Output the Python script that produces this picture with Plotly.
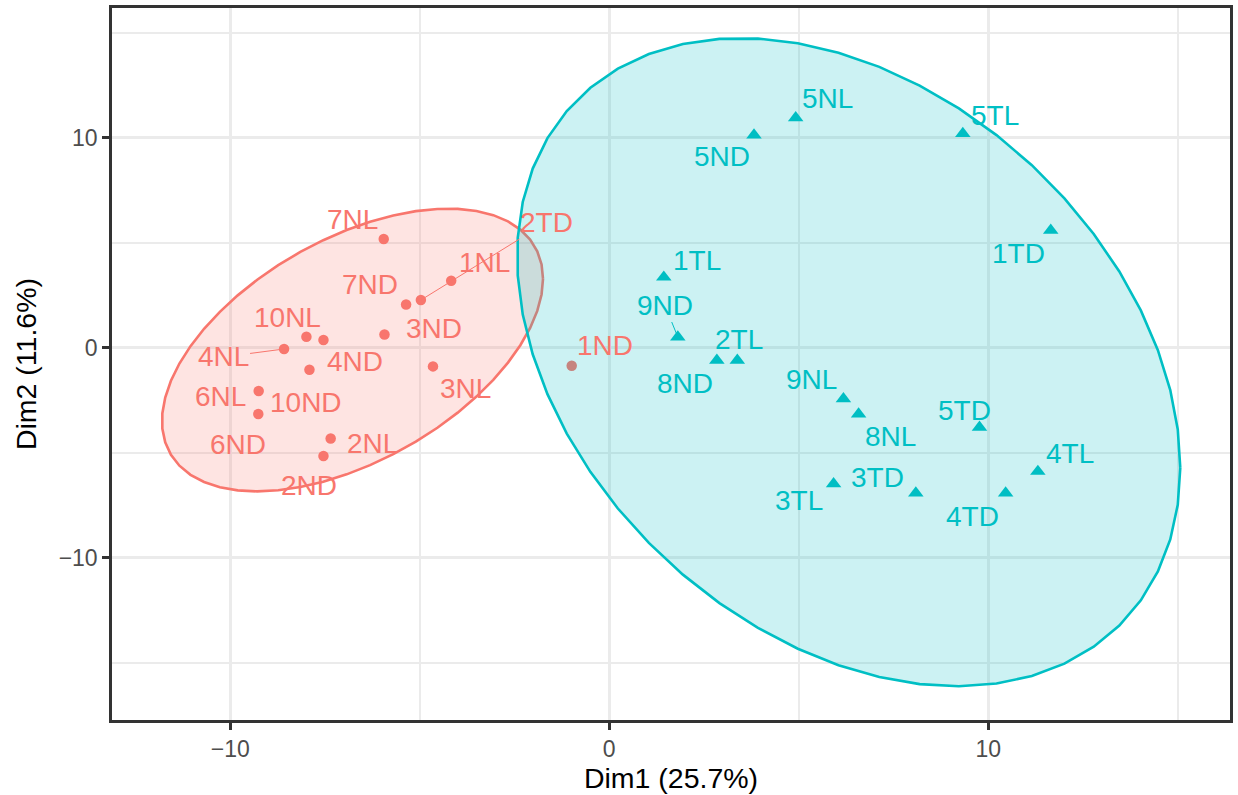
import numpy as np
import plotly.graph_objects as go

# ---------------- data ----------------
grp1_names = ["7NL", "1NL", "7ND", "2TD", "3ND", "10NL", "4ND", "4NL", "10ND", "3NL",
              "6NL", "6ND", "2NL", "2ND", "1ND"]
grp1_x = [-5.95, -4.17, -5.36, -4.97, -5.93, -7.99, -7.54, -8.58, -7.91, -4.65,
          -9.25, -9.26, -7.35, -7.54, -0.99]
grp1_y = [5.18, 3.19, 2.06, 2.27, 0.63, 0.52, 0.37, -0.06, -1.05, -0.89,
          -2.06, -3.16, -4.32, -5.16, -0.86]

grp2_names = ["5NL", "5ND", "5TL", "1TD", "1TL", "9ND", "8ND", "2TL", "9NL", "8NL",
              "5TD", "4TL", "4TD", "3TD", "3TL"]
grp2_x = [4.92, 3.82, 9.33, 11.65, 1.44, 1.81, 2.84, 3.38, 6.18, 6.58,
          9.77, 11.31, 10.46, 8.09, 5.92]
grp2_y = [10.95, 10.13, 10.20, 5.59, 3.36, 0.51, -0.60, -0.60, -2.43, -3.16,
          -3.79, -5.89, -6.92, -6.92, -6.48]

x_title = "Dim1 (25.7%)"
y_title = "Dim2 (11.6%)"

# ---------------- label placement (pixel offsets: dx right, dy down) ----------------
label_offsets = {
    "7NL": (-31, -19), "1NL": (33, -18), "7ND": (-36, -20), "2TD": (126, -78),
    "3ND": (50, -6), "10NL": (-19, -19), "4ND": (32, 22), "4NL": (-61, 8),
    "10ND": (-3, 33), "3NL": (32, 22), "6NL": (-38, 6), "6ND": (-20, 30),
    "2NL": (42, 5), "2ND": (-14, 29), "1ND": (33, -20),
    "5NL": (32, -19), "5ND": (-32, 21), "5TL": (32, -18), "1TD": (-32, 23),
    "1TL": (33, -17), "9ND": (-13, -32), "8ND": (-32, 23), "2TL": (2, -21),
    "9NL": (-32, -19), "8NL": (32, 22), "5TD": (-15, -17), "4TL": (32, -18),
    "4TD": (-33, 23), "3TD": (-38, -16), "3TL": (-35, 17),
}
segment_labels = {"2TD", "4NL", "9ND"}

RED = "#F8766D"
CYAN = "#00BFC4"
FONT = "Liberation Sans, Arial"


# ---------------- ellipse (ggplot2 stat_ellipse, type = "t", level = 0.95) ----------------
def cov_trob(x, nu=5, maxit=25, tol=0.01):
    n, p = x.shape
    wt = np.ones(n)
    loc = (wt[:, None] * x).sum(0) / wt.sum()
    w = np.sqrt(wt)
    X = x - loc
    for _ in range(maxit):
        w0 = w
        X = x - loc
        _, d, vt = np.linalg.svd(np.sqrt(w / w.sum())[:, None] * X, full_matrices=False)
        wX = X @ vt.T @ np.diag(1.0 / d)
        Q = (wX ** 2).sum(1)
        w = (wt * (nu + p)) / (nu + Q)
        loc = (w[:, None] * x).sum(0) / w.sum()
        if np.all(np.abs(w - w0) < tol):
            break
    cov = (np.sqrt(w)[:, None] * X).T @ (np.sqrt(w)[:, None] * X) / wt.sum()
    return cov, loc


def ellipse(xs, ys, level=0.95, segments=51):
    data = np.column_stack([xs, ys])
    cov, center = cov_trob(data)
    dfn, dfd = 2, len(xs) - 1
    fq = dfd / 2.0 * ((1 - level) ** (-2.0 / dfd) - 1)  # qf(level, 2, dfd)
    radius = np.sqrt(dfn * fq)
    R = np.linalg.cholesky(cov).T
    ang = np.arange(segments + 1) * 2 * np.pi / segments
    circ = np.column_stack([np.cos(ang), np.sin(ang)])
    e = center + radius * (circ @ R)
    return e[:, 0], e[:, 1]


fig = go.Figure()

# points (drawn first, ellipses over them)
fig.add_trace(go.Scatter(x=grp1_x, y=grp1_y, mode="markers",
                         marker=dict(symbol="circle", size=10.5, color=RED),
                         hoverinfo="skip"))
fig.add_trace(go.Scatter(x=grp2_x, y=grp2_y, mode="markers",
                         marker=dict(symbol="triangle-up", size=13.5, color=CYAN),
                         hoverinfo="skip"))

for xs, ys, col, fillc in [(grp1_x, grp1_y, RED, "rgba(248,118,109,0.2)"),
                           (grp2_x, grp2_y, CYAN, "rgba(0,191,196,0.2)")]:
    ex, ey = ellipse(xs, ys)
    fig.add_trace(go.Scatter(x=ex, y=ey, mode="lines", fill="toself",
                             fillcolor=fillc, line=dict(color=col, width=2.6),
                             hoverinfo="skip"))

annotations = []
for names, xs, ys, col in [(grp1_names, grp1_x, grp1_y, RED),
                           (grp2_names, grp2_x, grp2_y, CYAN)]:
    for nm, xv, yv in zip(names, xs, ys):
        dx, dy = label_offsets[nm]
        if nm in segment_labels:
            annotations.append(dict(x=xv, y=yv, xref="x", yref="y", text=nm,
                                    showarrow=True, ax=dx, ay=dy, arrowhead=0,
                                    arrowwidth=1, arrowcolor=col, standoff=0,
                                    font=dict(size=28, color=col, family=FONT)))
        else:
            annotations.append(dict(x=xv, y=yv, xref="x", yref="y", text=nm,
                                    showarrow=False, xshift=dx, yshift=-dy,
                                    font=dict(size=28, color=col, family=FONT)))

axis_common = dict(
    showline=True, mirror=True, linecolor="#333333", linewidth=2.5,
    ticks="outside", ticklen=7, tickwidth=2.5, tickcolor="#333333",
    showgrid=True, gridcolor="#EBEBEB", gridwidth=3, zeroline=False,
    tickfont=dict(size=23, color="#4D4D4D", family=FONT),
    minor=dict(dtick=5, showgrid=True, gridcolor="#EBEBEB", gridwidth=2, ticks=""),
    dtick=10, tick0=0,
)

fig.update_layout(
    width=1238, height=795,
    margin=dict(l=112, r=5, t=8, b=75),
    paper_bgcolor="white", plot_bgcolor="white",
    showlegend=False,
    annotations=annotations,
    font=dict(family=FONT),
    xaxis=dict(range=[-13.12, 16.38], **axis_common,
               title=dict(text=x_title, font=dict(size=28.5, color="black"), standoff=6)),
    yaxis=dict(range=[-17.73, 16.18], **axis_common,
               title=dict(text=y_title, font=dict(size=28.5, color="black"), standoff=14)),
)

fig.write_html("out.html")
